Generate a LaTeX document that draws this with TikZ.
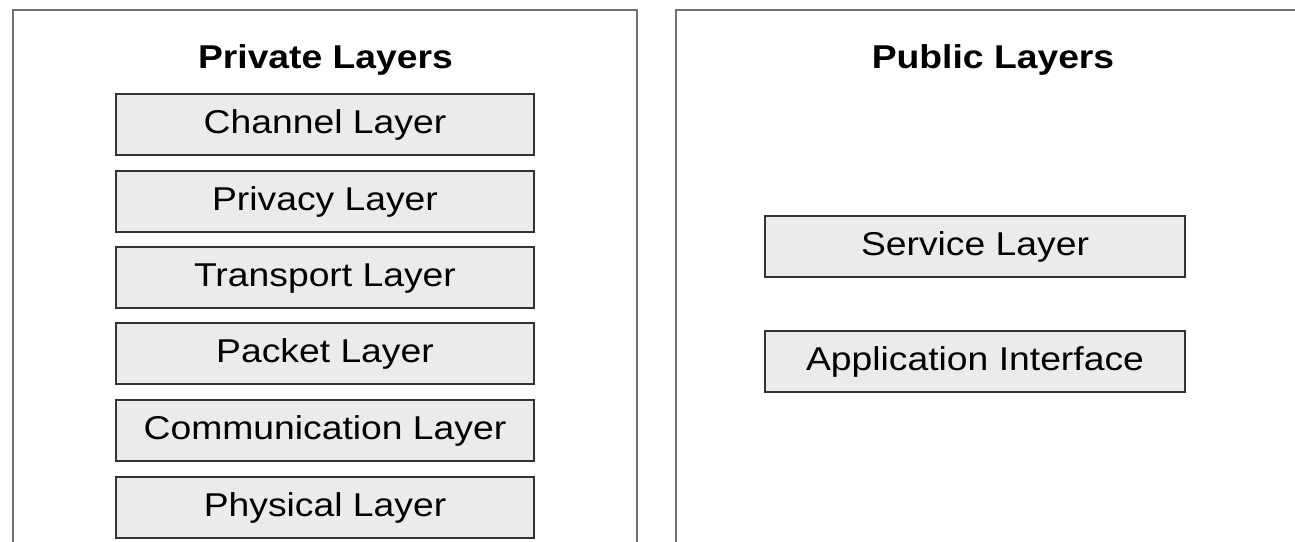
\documentclass[tikz,border=0pt]{standalone}
\usepackage{fontspec}
\setmainfont[FakeStretch=1.13]{Liberation Sans}
\tikzset{
  frame/.style={draw=black!55, line width=2.6pt, fill=none},
  layer/.style={draw=black!80, line width=2pt, fill=black!8,
    minimum width=418pt, minimum height=61pt, inner sep=0pt, outer sep=0pt},
  ltext/.style={font=\fontsize{33}{38}\selectfont, anchor=base, inner sep=0pt},
  title/.style={font=\fontsize{33}{38}\selectfont\bfseries, anchor=base, inner sep=0pt},
}
\begin{document}
\begin{tikzpicture}[x=1pt,y=-1pt]
\useasboundingbox (0,0) rectangle (1295,541);
\clip (0,0) rectangle (1295,541);
\fill[white] (0,0) rectangle (1295,541);
% outer frames, running past the lower and right edges
\draw[frame] (13,600) |- (637,10) -- (637,600);
\draw[frame] (676,600) |- (1340,10);
\node[title] (privt) at (325.5,68) {Private Layers};
\node[title] (pubt) at (993,68) {Public Layers};
% private stack
\foreach \n/\t/\y in {ch/Channel Layer/94, pr/Privacy Layer/171, tr/Transport Layer/247,
    pk/Packet Layer/323, cm/Communication Layer/400, ph/Physical Layer/477}{
  \node[layer, anchor=north] (\n) at (325,\y) {};
  \node[ltext] (\n t) at (325,\y+39.5) {\t};
}
% public stack
\node[layer, minimum width=420pt, anchor=north] (sv) at (975,216) {};
\node[ltext] (svt) at (975,255.5) {Service Layer};
\node[layer, minimum width=420pt, anchor=north] (ap) at (975,331) {};
\node[ltext] (apt) at (975,370.5) {Application Interface};
\end{tikzpicture}
\end{document}
